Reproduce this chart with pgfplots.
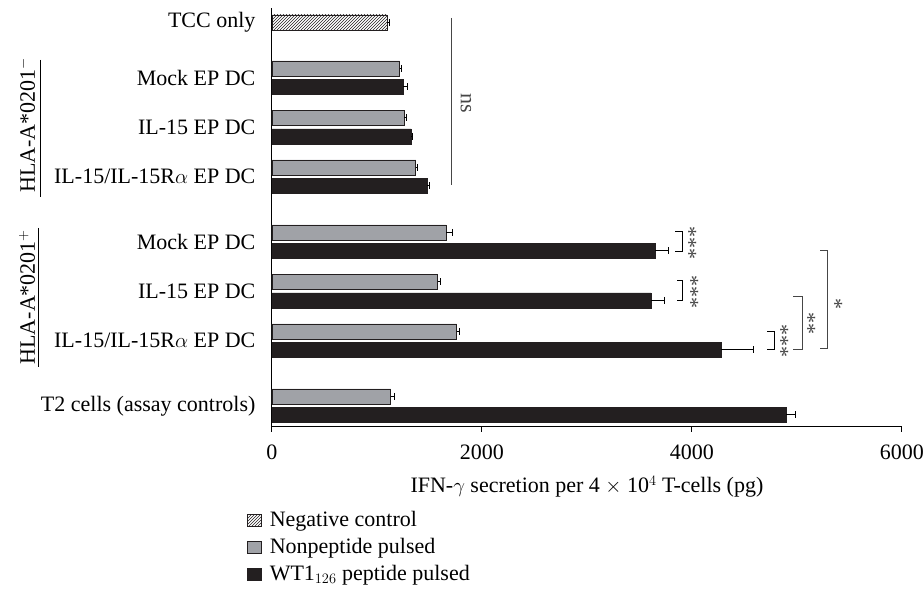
\documentclass[border=0pt]{standalone}
\usepackage{fontspec}
\setmainfont{Liberation Serif}
\usepackage{pgfplots}
\pgfplotsset{compat=1.18}
\usetikzlibrary{patterns}
\definecolor{barblack}{RGB}{35,31,32}
\definecolor{bargray}{RGB}{160,162,167}
\definecolor{annot}{RGB}{70,70,70}
\begin{document}
\fontsize{22}{26}\selectfont%
\begin{tikzpicture}[x=1pt,y=1pt]
\path[use as bounding box] (0,0) rectangle (924,589);
\begin{axis}[
  at={(259,162)}, anchor=south west, scale only axis, width=630pt, height=419pt,
  xmin=0, xmax=6000, ymin=0, ymax=419,
  axis x line*=bottom, axis y line*=left,
  axis line style={line width=1pt, -},
  xtick={0,2000,4000,6000}, tick align=outside, major tick length=5pt,
  xtick style={line width=1pt, black},
  scaled x ticks=false,
  /pgf/number format/assume math mode=true,
  /pgf/number format/1000 sep={},
  ytick={404.5,349.25,299.75,250.25,185.25,135.75,86.25,21.25},
  yticklabels={TCC only, Mock EP DC, IL-15 EP DC, IL-15/IL-15R$\alpha$ EP DC, Mock EP DC, IL-15 EP DC, IL-15/IL-15R$\alpha$ EP DC, T2 cells (assay controls)},
  ytick style={draw=none},
  yticklabel style={xshift=-4pt},
  xticklabel style={yshift=-5pt},
  xlabel={IFN-$\gamma$ secretion per 4 $\times$ 10$^{4}$ T-cells (pg)},
  xlabel style={at={(axis description cs:0.5,-0.143)}, anchor=center},
  clip=false,
  legend style={at={(axis description cs:-0.04,-0.195)}, anchor=north west, draw=none, fill=none, row sep=4.5pt, inner sep=0pt},
  legend cell align=left,
  legend image code/.code={\draw[#1, line width=0.8pt] (0pt,-6pt) rectangle (14pt,6pt);},
  error bars/error bar style={line width=1pt, black},
  error bars/error mark=|,
  error bars/error mark options={black, line width=1pt, mark size=3.5pt},
]
\addplot[xbar, bar width=15, bar shift=0, pattern=north east lines, pattern color=barblack, draw=barblack, line width=0.8pt,
  error bars/.cd, x dir=plus, x explicit]
  coordinates {(1100,404.5) +- (20,0)};
\addlegendentry{\hspace{6pt}Negative control}
\addplot[xbar, bar width=15, bar shift=0, fill=bargray, draw=barblack, line width=0.8pt,
  error bars/.cd, x dir=plus, x explicit]
  coordinates {
  (1215,358.5) +- (20,0)
  (1260,309) +- (20,0)
  (1370,259.5) +- (20,0)
  (1660,194.5) +- (55,0)
  (1580,145) +- (30,0)
  (1760,95.5) +- (30,0)
  (1130,30.5) +- (35,0)
  };
\addlegendentry{\hspace{6pt}Nonpeptide pulsed}
\addplot[xbar, bar width=15, bar shift=0, fill=barblack, draw=barblack, line width=0.8pt,
  error bars/.cd, x dir=plus, x explicit]
  coordinates {
  (1250,340) +- (40,0)
  (1325,290.5) +- (15,0)
  (1480,241) +- (20,0)
  (3650,176) +- (130,0)
  (3610,126.5) +- (130,0)
  (4280,77) +- (310,0)
  (4900,12) +- (90,0)
  };
\addlegendentry{\hspace{6pt}WT1$_{126}$ peptide pulsed}
\end{axis}
% group labels
\node[rotate=90] at (27,589-125) {HLA-A*0201$^{-}$};
\draw[line width=1pt] (40,589-60) -- (40,589-197);
\node[rotate=90] at (27,589-297) {HLA-A*0201$^{+}$};
\draw[line width=1pt] (38,589-228) -- (38,589-367);
% ns
\draw[line width=1pt, annot] (451,589-18) -- (451,589-185);
\node[rotate=-90, annot] at (466,589-103) {ns};
% significance brackets
\draw[line width=1pt] (675,589-232) -- (682,589-232) -- (682,589-252) -- (675,589-252);
\node[rotate=-90, annot, inner sep=0pt] at (689,589-243) {***};
\draw[line width=1pt] (677,589-281) -- (682,589-281) -- (682,589-301) -- (677,589-301);
\node[rotate=-90, annot, inner sep=0pt] at (691,589-292) {***};
\draw[line width=1pt] (767,589-332) -- (774,589-332) -- (774,589-350) -- (767,589-350);
\node[rotate=-90, annot, inner sep=0pt] at (781,589-341) {***};
\draw[line width=1pt, annot] (793,589-297) -- (802,589-297) -- (802,589-350) -- (793,589-350);
\node[rotate=-90, annot, inner sep=0pt] at (808,589-324) {**};
\draw[line width=1pt, annot] (820,589-251) -- (827,589-251) -- (827,589-349) -- (820,589-349);
\node[rotate=-90, annot, inner sep=0pt] at (835,589-304) {*};
\end{tikzpicture}
\end{document}
